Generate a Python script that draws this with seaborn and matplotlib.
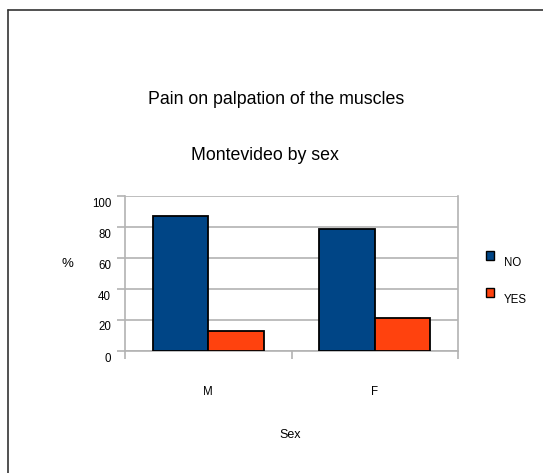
import matplotlib
matplotlib.use("Agg")
import matplotlib.pyplot as plt
import matplotlib.transforms as mtransforms
from matplotlib.lines import Line2D
from matplotlib.patches import Rectangle
import seaborn as sns
import pandas as pd

categories = ["M", "F"]
series = ["NO", "YES"]
no_values = [87, 78.5]
yes_values = [13, 21.5]
title1 = "Pain on palpation of the muscles"
title2 = "Montevideo by sex"
colors = ["#004586", "#ff420e"]

df = pd.DataFrame({
    "Sex": categories * 2,
    "Answer": ["NO"] * 2 + ["YES"] * 2,
    "pct": no_values + yes_values,
})

sns.set_style("white")
plt.rcParams["font.family"] = ["Liberation Sans", "DejaVu Sans"]
plt.rcParams["text.color"] = "black"
plt.rcParams["axes.labelcolor"] = "black"
plt.rcParams["xtick.labelcolor"] = "black"
plt.rcParams["ytick.labelcolor"] = "black"

fig = plt.figure(figsize=(5.43, 4.73), dpi=100)
ax = fig.add_axes([125 / 543, 1 - 351 / 473, 333 / 543, 155 / 473])

sns.barplot(data=df, x="Sex", y="pct", hue="Answer", order=categories,
            hue_order=series, palette=colors, saturation=1, width=0.666, gap=0,
            edgecolor="black", linewidth=1.3, ax=ax, legend=False, zorder=3)

ax.set_xlim(-0.5, 1.5)
ax.set_ylim(0, 100)
ax.set_yticks(range(0, 101, 20))
ax.yaxis.grid(True, color="#b3b3b3", linewidth=1.2, zorder=0)
ax.set_axisbelow(True)
for side in ["left", "right", "bottom"]:
    ax.spines[side].set_color("#b3b3b3")
    ax.spines[side].set_linewidth(1.2)
ax.spines["top"].set_visible(False)

ax.tick_params(axis="y", direction="out", length=6, width=1.2, color="#b3b3b3",
               left=True, labelsize=8.3, pad=4, labelcolor="black")
offset = mtransforms.ScaledTranslation(0, -6 / 100, fig.dpi_scale_trans)
for lab in ax.get_yticklabels():
    lab.set_transform(lab.get_transform() + offset)

ax.set_xticks([0, 1])
ax.set_xticklabels(categories)
ax.tick_params(axis="x", which="major", length=0, pad=25, labelsize=8.3,
               labelcolor="black")
ax.set_xticks([-0.5, 0.5, 1.5], minor=True)
ax.tick_params(axis="x", which="minor", direction="out", length=6, width=1.2,
               color="#b3b3b3", bottom=True)

ax.set_xlabel("Sex", fontsize=9, color="black")
ax.xaxis.set_label_coords(0.495, -0.50)
ax.set_ylabel("%", fontsize=9.5, rotation=0, color="black")
ax.yaxis.set_label_coords(-0.174, 0.523)

fig.text(276 / 543, 1 - 100 / 473, title1, ha="center", va="center", fontsize=12.8)
fig.text(265 / 543, 1 - 155 / 473, title2, ha="center", va="center", fontsize=12.8)

# legend
for i, (name, col) in enumerate(zip(series, colors)):
    ysq = 251 + i * 37
    fig.patches.append(Rectangle((486 / 543, 1 - (ysq + 9) / 473), 8 / 543, 9 / 473,
                                 transform=fig.transFigure, facecolor=col,
                                 edgecolor="black", linewidth=1.0))
    fig.text(504 / 543, 1 - (ysq + 12) / 473, name, ha="left", va="center", fontsize=8.3)

# figure frame (top and left)
fig.lines.append(Line2D([8 / 543, 1], [1 - 10.5 / 473, 1 - 10.5 / 473],
                        transform=fig.transFigure, color="#333333", linewidth=1.2))
fig.lines.append(Line2D([8 / 543, 8 / 543], [0, 1 - 10.5 / 473],
                        transform=fig.transFigure, color="#333333", linewidth=1.2))

fig.savefig("out.png", dpi=100)
